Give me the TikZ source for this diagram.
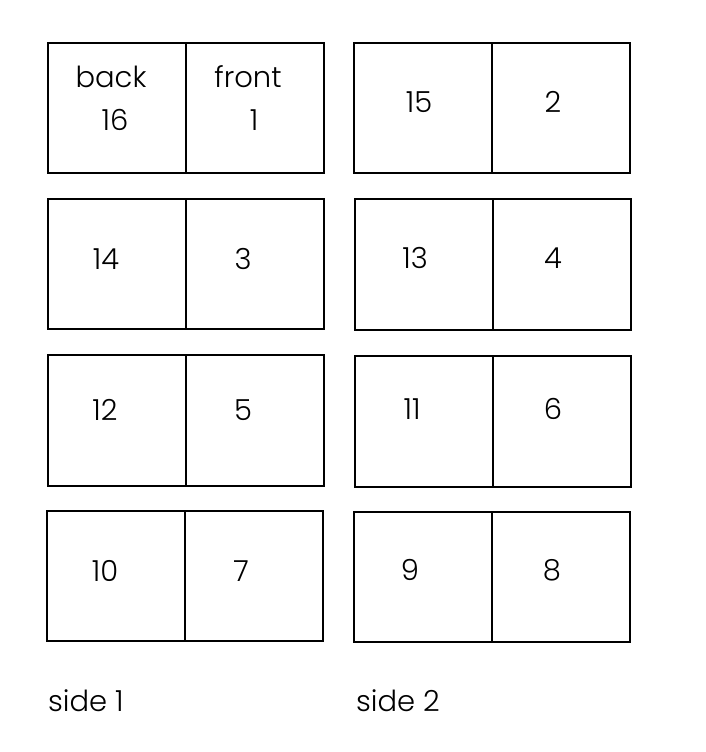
\documentclass[tikz,border=0pt]{standalone}
\usepackage{fontspec}
\setmainfont{Poppins Light}
\begin{document}
\begin{tikzpicture}[x=1pt,y=-1pt,
  page/.style={draw,line width=1.5pt},
  num/.style={font=\fontsize{29}{34}\selectfont,inner sep=0pt,anchor=base}]
\useasboundingbox (0,0) rectangle (706,752);

% side 1
\draw[page] (48,43) rectangle (186,173);
\draw[page] (186,43) rectangle (324,173);
\draw[page] (48,199) rectangle (186,329);
\draw[page] (186,199) rectangle (324,329);
\draw[page] (48,355) rectangle (186,486);
\draw[page] (186,355) rectangle (324,486);
\draw[page] (47,511) rectangle (185,641);
\draw[page] (185,511) rectangle (323,641);

% side 2
\draw[page] (354,43) rectangle (492,173);
\draw[page] (492,43) rectangle (630,173);
\draw[page] (355,199) rectangle (493,330);
\draw[page] (493,199) rectangle (631,330);
\draw[page] (355,356) rectangle (493,487);
\draw[page] (493,356) rectangle (631,487);
\draw[page] (354,512) rectangle (492,642);
\draw[page] (492,512) rectangle (630,642);

\node[num] (back) at (111,87) {back};
\node[num] (p16) at (115,130) {16};
\node[num] (front) at (248,87) {front};
\node[num] (p1) at (254,130) {1};
\node[num] (p15) at (419,112) {15};
\node[num] (p2) at (553,112) {2};
\node[num] (p14) at (106,269) {14};
\node[num] (p3) at (243,269) {3};
\node[num] (p13) at (415,268) {13};
\node[num] (p4) at (553,268) {4};
\node[num] (p12) at (105,420) {12};
\node[num] (p5) at (243,420) {5};
\node[num] (p11) at (412,419) {11};
\node[num] (p6) at (553,419) {6};
\node[num] (p10) at (105,581) {10};
\node[num] (p7) at (241,581) {7};
\node[num] (p9) at (410,580) {9};
\node[num] (p8) at (552,580) {8};

\node[num,anchor=base west] (side1) at (48,711) {side 1};
\node[num,anchor=base west] (side2) at (356,711) {side 2};
\end{tikzpicture}
\end{document}
